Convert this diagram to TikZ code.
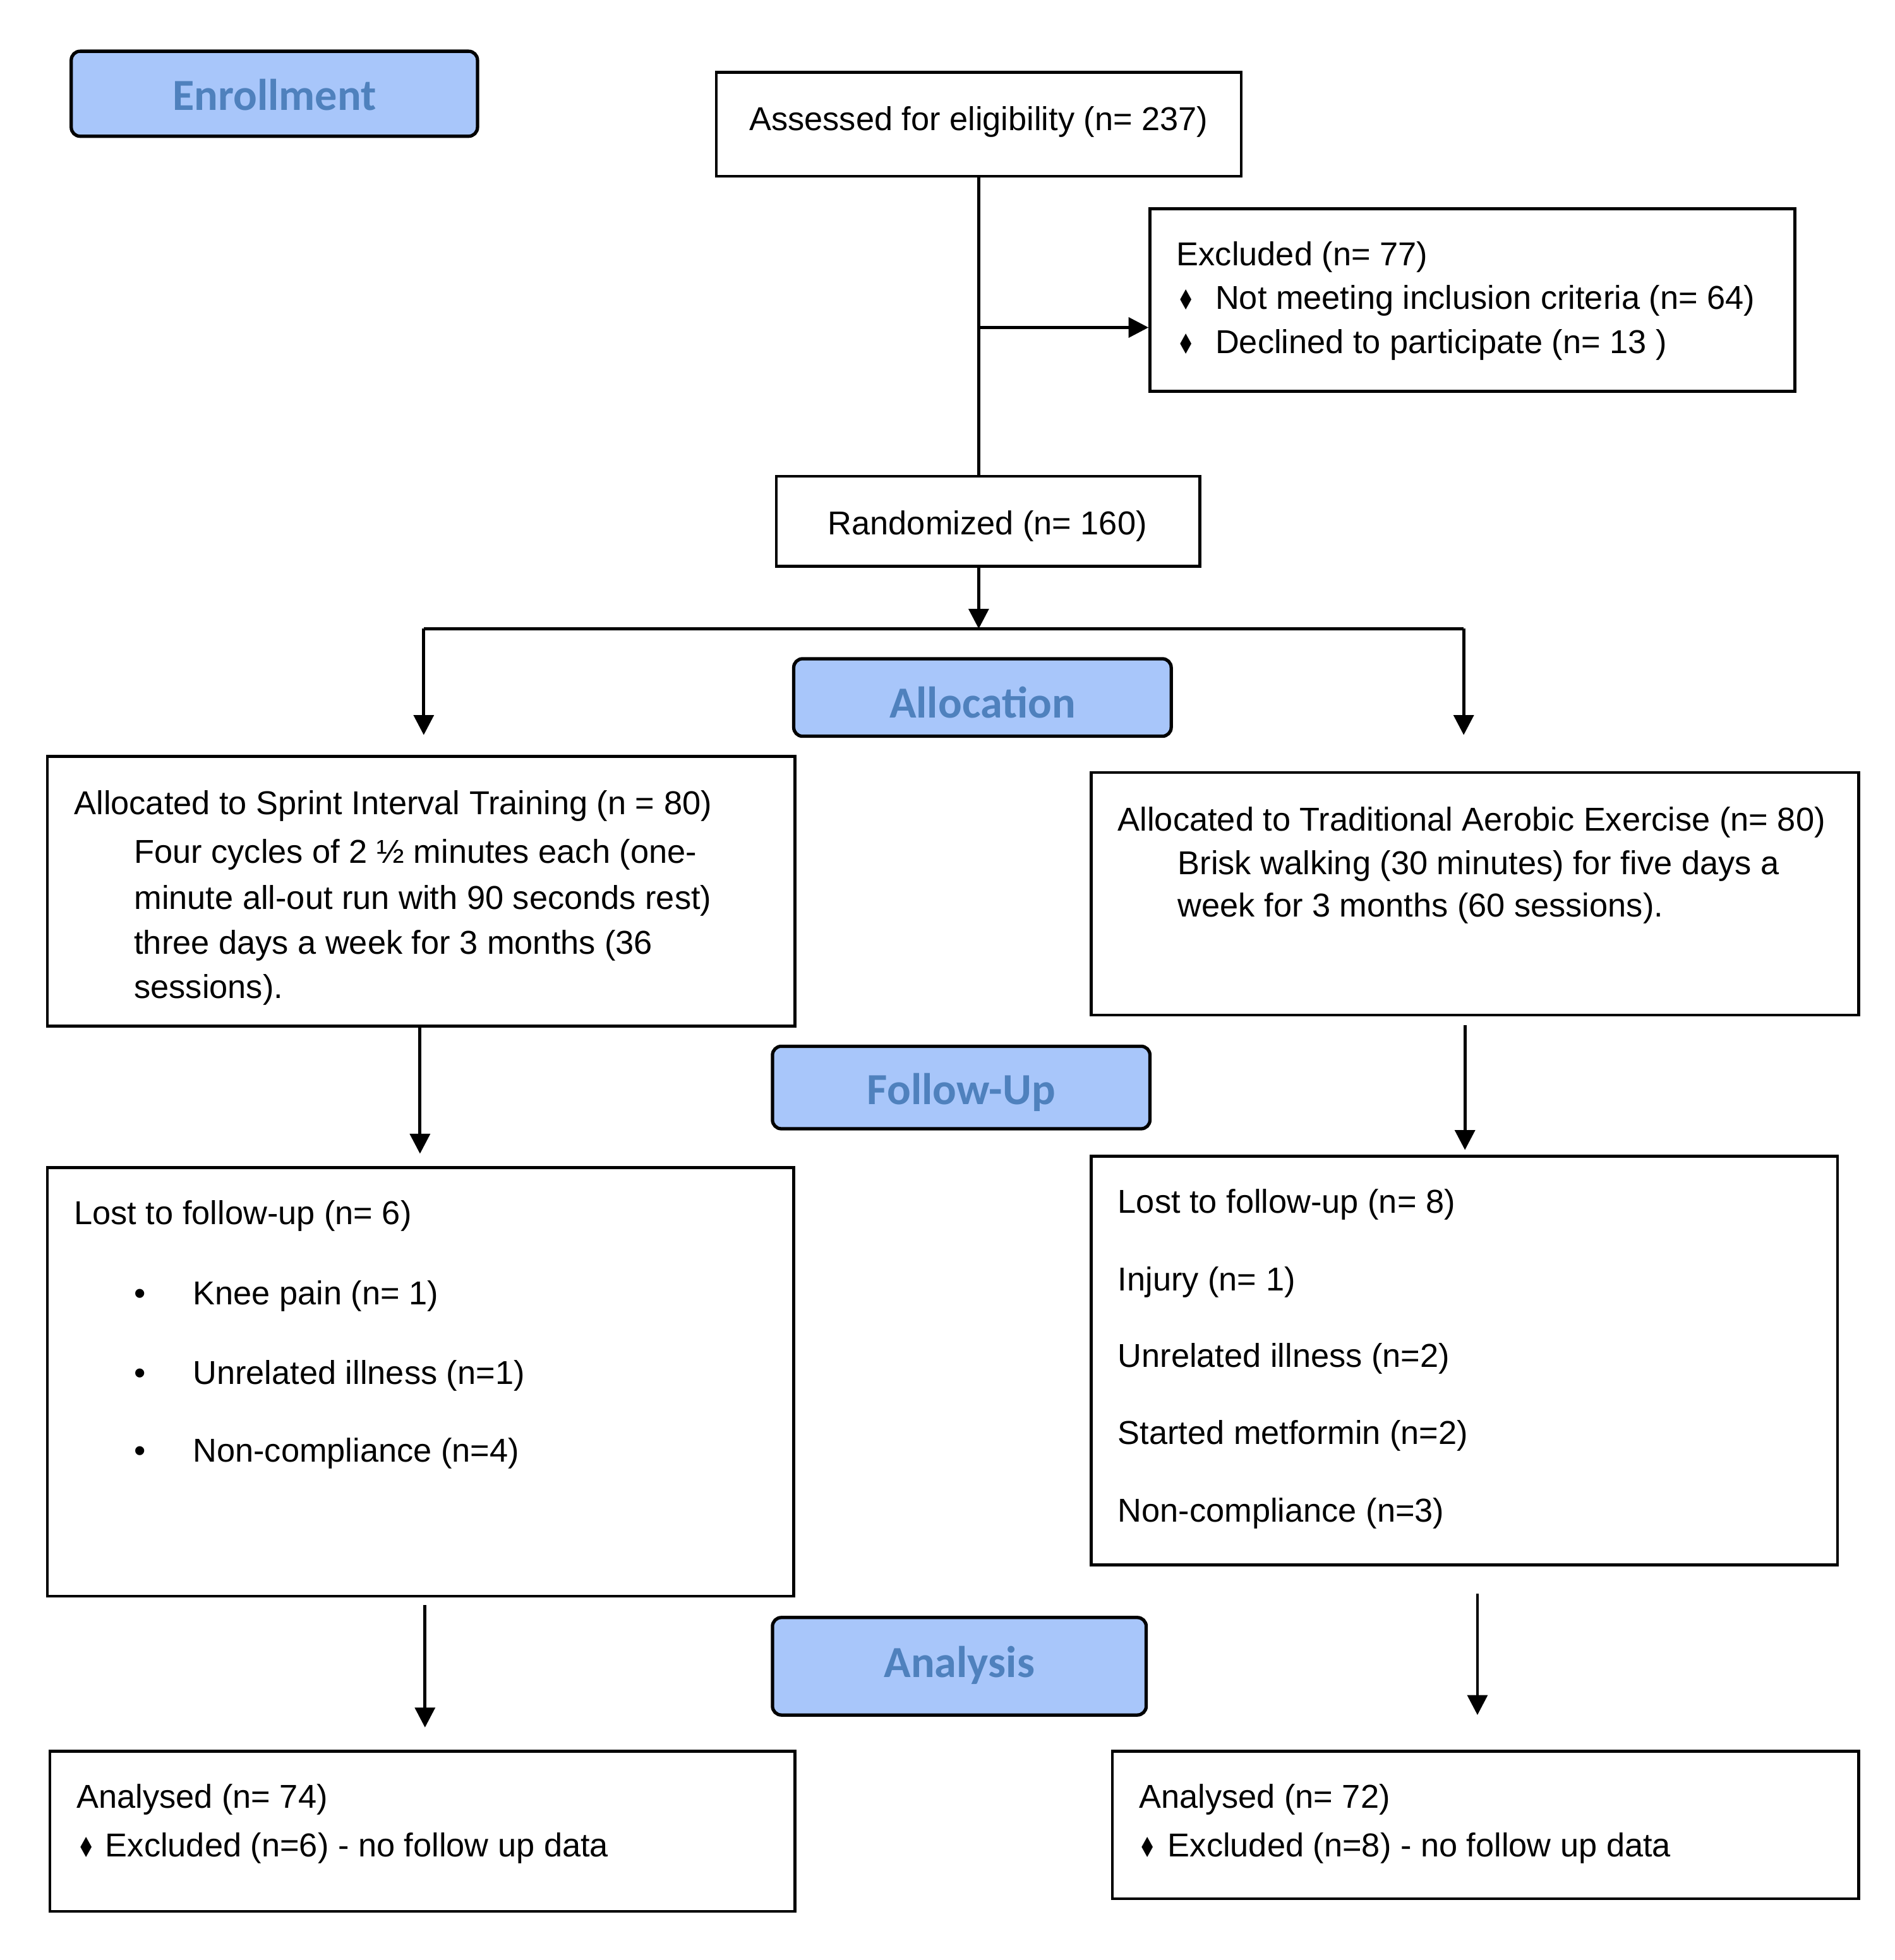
\documentclass[tikz,border=0pt]{standalone}
\usepackage{fontspec}
\usepackage{graphicx}
\setmainfont{Liberation Sans}
\newfontfamily\carlito{Carlito}
\newfontfamily\dejavu{DejaVu Sans}
\usetikzlibrary{arrows.meta}
\definecolor{lblue}{RGB}{168,198,250}
\definecolor{tblue}{RGB}{79,129,189}
\def\pxu{0.19789mm}
\newcommand\shiftlab[2]{\raisebox{#1}[\height][\depth]{#2}}
\begin{document}
\begin{tikzpicture}[x=0.19789mm,y=-0.19790mm,
  box/.style={draw, line width=1.3pt, inner sep=0pt, rectangle},
  lab/.style={draw, line width=1.5pt, fill=lblue, rounded corners=1.4mm, inner sep=0pt, text=tblue, font=\carlito\bfseries\fontsize{20}{24}\selectfont},
  txt/.style={anchor=base west, inner sep=0pt, font=\fontsize{14.9}{18}\selectfont},
  ctxt/.style={txt, anchor=base},
  dia/.style={inner sep=0pt, font=\dejavu\fontsize{12.5}{12.5}\selectfont},
  bul/.style={anchor=base, inner sep=0pt, font=\fontsize{14.9}{18}\selectfont},
  arr/.style={line width=1.4pt, -{Triangle[length=9pt,width=9pt]}},
  ln/.style={line width=1.4pt}]
\useasboundingbox (0,0) rectangle (1516,1568);
\fill[white] (0,0) rectangle (1516,1568);

% boxes
\node[lab, minimum width=325*\pxu, minimum height=68*\pxu] (enroll) at (219.5,75) {\shiftlab{-0.2mm}{Enrollment}};
\node[box, minimum width=420*\pxu, minimum height=83*\pxu] (assess) at (783,99.5) {};
\node[box, minimum width=516*\pxu, minimum height=146*\pxu] (excl) at (1178,240) {};
\node[box, minimum width=339*\pxu, minimum height=72*\pxu] (rand) at (790.5,417) {};
\node[lab, minimum width=302*\pxu, minimum height=62*\pxu] (alloclab) at (786,558) {\shiftlab{-0.8mm}{Allocation}};
\node[box, minimum width=598*\pxu, minimum height=216*\pxu] (sit) at (337,713) {};
\node[box, minimum width=614*\pxu, minimum height=194*\pxu] (tae) at (1180,715) {};
\node[lab, minimum width=302*\pxu, minimum height=66*\pxu] (fulab) at (769,870) {\shiftlab{-0.8mm}{Follow-Up}};
\node[box, minimum width=597*\pxu, minimum height=343*\pxu] (lost1) at (336.5,1105.5) {};
\node[box, minimum width=597*\pxu, minimum height=327*\pxu] (lost2) at (1171.5,1088.5) {};
\node[lab, minimum width=299*\pxu, minimum height=78*\pxu] (anlab) at (767.5,1333) {\shiftlab{0.2mm}{Analysis}};
\node[box, minimum width=596*\pxu, minimum height=128*\pxu] (an1) at (338,1465) {};
\node[box, minimum width=597*\pxu, minimum height=118*\pxu] (an2) at (1188.5,1460) {};

% texts
\node[ctxt] (tassess) at (783,104.5) {Assessed for eligibility (n= 237)};
\node[txt] (texcl1) at (941,212.5) {Excluded (n= 77)};
\node[dia] (dexcl2) at (949,240) {\scalebox{0.72}[1]{♦}};
\node[txt] (texcl2) at (972,247.5) {Not meeting inclusion criteria (n= 64)};
\node[dia] (dexcl3) at (949,275) {\scalebox{0.72}[1]{♦}};
\node[txt] (texcl3) at (972,282.5) {Declined to participate (n= 13 )};
\node[ctxt] (trand) at (790,427.5) {Randomized (n= 160)};

\node[txt] (tsit1) at (59,651.5) {Allocated to Sprint Interval Training (n = 80)};
\node[txt] (tsit2) at (107,690.5) {Four cycles of 2 ½ minutes each (one-};
\node[txt] (tsit3) at (107,727.5) {minute all-out run with 90 seconds rest)};
\node[txt] (tsit4) at (107,763.5) {three days a week for 3 months (36};
\node[txt] (tsit5) at (107,798.5) {sessions).};

\node[txt] (ttae1) at (894,664.5) {Allocated to Traditional Aerobic Exercise (n= 80)};
\node[txt] (ttae2) at (942,699.5) {Brisk walking (30 minutes) for five days a};
\node[txt] (ttae3) at (942,733.5) {week for 3 months (60 sessions).};

\node[txt] (tl11) at (59,979.5) {Lost to follow-up (n= 6)};
\node[bul] (b12) at (112,1043.5) {•};
\node[txt] (tl12) at (154,1043.5) {Knee pain (n= 1)};
\node[bul] (b13) at (112,1107.5) {•};
\node[txt] (tl13) at (154,1107.5) {Unrelated illness (n=1)};
\node[bul] (b14) at (112,1169.5) {•};
\node[txt] (tl14) at (154,1169.5) {Non-compliance (n=4)};

\node[txt] (tl21) at (894,970.5) {Lost to follow-up (n= 8)};
\node[txt] (tl22) at (894,1032.5) {Injury (n= 1)};
\node[txt] (tl23) at (894,1093.5) {Unrelated illness (n=2)};
\node[txt] (tl24) at (894,1155.5) {Started metformin (n=2)};
\node[txt] (tl25) at (894,1217.5) {Non-compliance (n=3)};

\node[txt] (ta11) at (61,1446.5) {Analysed (n= 74)};
\node[dia] (da12) at (69,1478) {\scalebox{0.72}[1]{♦}};
\node[txt] (ta12) at (84,1485.5) {Excluded (n=6) - no follow up data};
\node[txt] (ta21) at (911,1446.5) {Analysed (n= 72)};
\node[dia] (da22) at (918,1478) {\scalebox{0.72}[1]{♦}};
\node[txt] (ta22) at (934,1485.5) {Excluded (n=8) - no follow up data};

% connectors
\coordinate (br) at (783,262);
\coordinate (split) at (783,503);
\coordinate (sl) at (339,503);
\coordinate (sr) at (1171,503);
\coordinate (sle) at (339,588);
\coordinate (sre) at (1171,588);
\coordinate (a1s) at (336,821);
\coordinate (a1e) at (336,923);
\coordinate (a2s) at (1172,820);
\coordinate (a2e) at (1172,920);
\coordinate (a3s) at (340,1284);
\coordinate (a3e) at (340,1382);
\coordinate (a4s) at (1182,1275);
\coordinate (a4e) at (1182,1372);

\draw[ln] (assess.south -| br) -- (rand.north -| br);
\draw[arr] (br) -- (br -| excl.west);
\draw[arr] (rand.south -| split) -- (split);
\draw[ln] (sl) -- (sr);
\draw[arr] (sl) -- (sle);
\draw[arr] (sr) -- (sre);
\draw[arr] (a1s) -- (a1e);
\draw[arr] (a2s) -- (a2e);
\draw[arr] (a3s) -- (a3e);
\draw[arr] (a4s) -- (a4e);
\end{tikzpicture}
\end{document}
